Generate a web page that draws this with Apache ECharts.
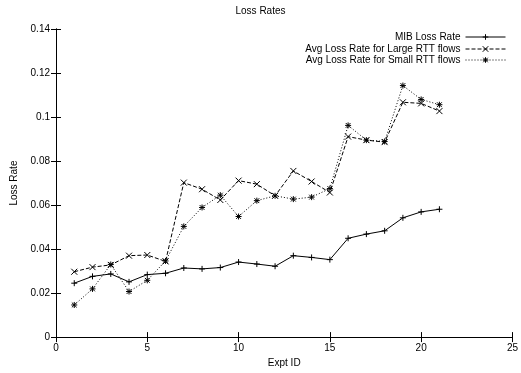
<!DOCTYPE html>
<html><head><meta charset="utf-8">
<script src="https://cdn.jsdelivr.net/npm/echarts@6/dist/echarts.min.js"></script>
<style>html,body{margin:0;padding:0;background:#fff}#c{width:521px;height:373px}</style>
</head><body><div id="c"></div>
<script>
const exptIds = [1,2,3,4,5,6,7,8,9,10,11,12,13,14,15,16,17,18,19,20,21];
const mibLoss = [0.0245,0.0276,0.0287,0.0251,0.0284,0.0290,0.0314,0.0310,0.0316,0.0341,0.0332,0.0322,0.0370,0.0362,0.0352,0.0449,0.0468,0.0483,0.0542,0.0569,0.0581];
const largeRtt = [0.0297,0.0318,0.0328,0.0370,0.0373,0.0344,0.0702,0.0672,0.0623,0.0711,0.0695,0.0642,0.0755,0.0707,0.0657,0.0911,0.0895,0.0886,0.1067,0.1062,0.1027];
const smallRtt = [0.0146,0.0219,0.0330,0.0207,0.0258,0.0346,0.0503,0.0589,0.0645,0.0548,0.0620,0.0642,0.0627,0.0636,0.0675,0.0962,0.0895,0.0889,0.1143,0.1080,0.1056];
const seriesNames = ['MIB Loss Rate','Avg Loss Rate for Large RTT flows','Avg Loss Rate for Small RTT flows'];

const FONT = 'Liberation Sans';
const plus = 'path://M0,5L10,5M5,0L5,10';
const cross = 'path://M0,0L10,10M0,10L10,0';
const star = 'path://M0,5L10,5M5,0L5,10M1,1L9,9M1,9L9,1';
const pairs = v => exptIds.map((x,i)=>[x,v[i]]);
const mk = (name, data, sym, type) => ({
  name, type:'line', data: pairs(data), symbol: sym, symbolSize: 6,
  lineStyle:{color:'#000', width:1, type},
  itemStyle:{color:'#000', borderColor:'#000', borderWidth:1},
  emphasis:{disabled:true}, animation:false
});
const axBase = {
  min:0, axisLine:{show:true, lineStyle:{color:'#000', width:1}},
  axisTick:{show:true, inside:true, length:5, lineStyle:{color:'#000'}},
  splitLine:{show:false},
  axisLabel:{color:'#000', fontFamily:FONT, fontSize:10, margin:6}
};
const chart = echarts.init(document.getElementById('c'), null, {renderer:'canvas'});
const legendRow = (name, top, type) => ({
  data:[name], orient:'vertical', right:15, top, align:'right',
  itemWidth:40, itemHeight:7, padding:0,
  lineStyle:{width:1, color:'#000', type},
  itemStyle:{color:'#000', borderColor:'#000', borderWidth:1},
  textStyle:{color:'#000', fontFamily:FONT, fontSize:10}, selectedMode:false
});
chart.setOption({
  animation:false,
  title:{text:'Loss Rates', left:'center', top:6, padding:0, textStyle:{fontFamily:FONT, fontSize:10, fontWeight:'normal', color:'#000'}},
  grid:{left:56, right:4, top:29, bottom:35},
  legend:[legendRow(seriesNames[0],32,'solid'), legendRow(seriesNames[1],44,[4,2]), legendRow(seriesNames[2],55,[1,2])],
  xAxis:[
    Object.assign({}, axBase, {type:'value', max:25, interval:5, name:'Expt ID', nameLocation:'middle', nameGap:16,
      nameTextStyle:{color:'#000', fontFamily:FONT, fontSize:10}, position:'bottom'}),
    Object.assign({}, axBase, {type:'value', max:25, interval:5, position:'top', axisLabel:{show:false}})
  ],
  yAxis:[
    Object.assign({}, axBase, {type:'value', max:0.14, interval:0.02, name:'Loss Rate', nameLocation:'middle', nameGap:36,
      nameTextStyle:{color:'#000', fontFamily:FONT, fontSize:10}, position:'left'}),
    Object.assign({}, axBase, {type:'value', max:0.14, interval:0.02, position:'right', axisLabel:{show:false}})
  ],
  series:[
    mk(seriesNames[0], mibLoss, plus, 'solid'),
    mk(seriesNames[1], largeRtt, cross, [4,2]),
    mk(seriesNames[2], smallRtt, star, [1,2])
  ]
});
</script></body></html>
